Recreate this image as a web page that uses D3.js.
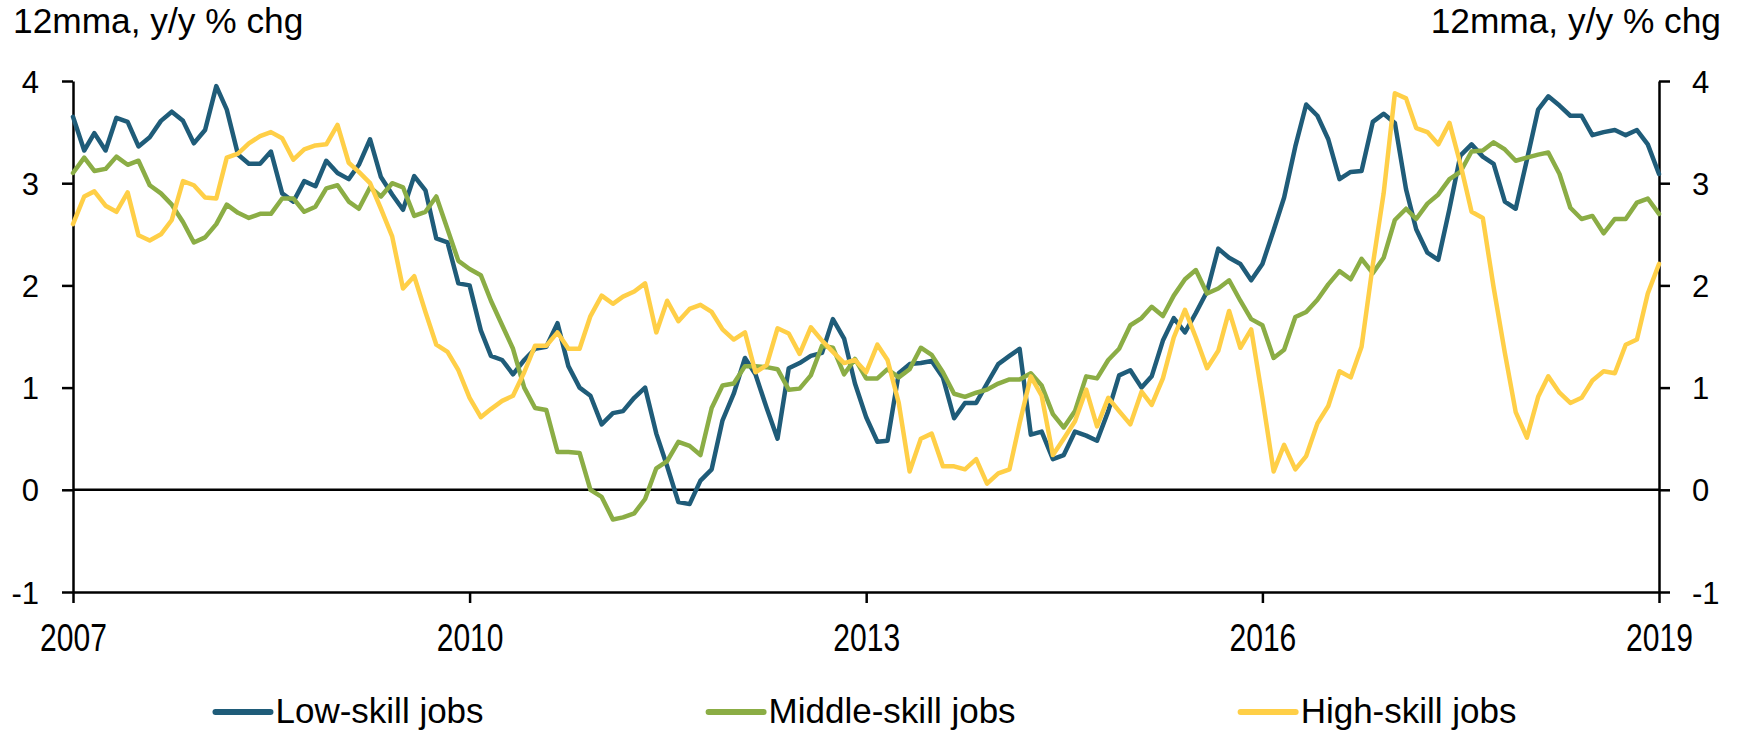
<!DOCTYPE html>
<html>
<head>
<meta charset="utf-8">
<script src="https://cdn.jsdelivr.net/npm/d3@7"></script>
<style>
  html, body { margin: 0; padding: 0; background: #fff; }
  svg { display: block; }
</style>
</head>
<body>
<svg></svg>
<script>
// monthly 12mma y/y % chg, jan 2007 .. jan 2019
let startYear = 2007
let yearTicks = [2007, 2010, 2013, 2016, 2019]
let yTicks = [-1, 0, 1, 2, 3, 4]
let seriesNames = ['Low-skill jobs', 'Middle-skill jobs', 'High-skill jobs']
let seriesColors = ['#1f5c79', '#8bad45', '#ffcf47']

let lowSkill = [
  3.65, 3.32, 3.49, 3.32, 3.64, 3.60, 3.36, 3.45, 3.61, 3.70, 3.61, 3.39,
  3.52, 3.95, 3.72, 3.28, 3.19, 3.19, 3.31, 2.90, 2.82, 3.02, 2.97, 3.22,
  3.10, 3.04, 3.18, 3.43, 3.06, 2.89, 2.74, 3.07, 2.93, 2.46, 2.42, 2.02,
  2.00, 1.56, 1.31, 1.27, 1.13, 1.27, 1.38, 1.40, 1.63, 1.21, 1.00, 0.92,
  0.64, 0.75, 0.77, 0.90, 1.00, 0.55, 0.23, -0.12, -0.14, 0.09, 0.20, 0.68,
  0.94, 1.29, 1.13, 0.80, 0.50, 1.19, 1.24, 1.31, 1.34, 1.67, 1.48, 1.04,
  0.71, 0.47, 0.48, 1.14, 1.23, 1.24, 1.26, 1.10, 0.70, 0.85, 0.85, 1.04,
  1.23, 1.31, 1.38, 0.54, 0.57, 0.30, 0.34, 0.57, 0.53, 0.48, 0.77, 1.12,
  1.17, 1.00, 1.11, 1.46, 1.68, 1.54, 1.73, 1.94, 2.36, 2.27, 2.21, 2.05,
  2.21, 2.54, 2.86, 3.36, 3.77, 3.66, 3.43, 3.04, 3.11, 3.12, 3.60, 3.68,
  3.59, 2.94, 2.55, 2.32, 2.25, 2.75, 3.27, 3.38, 3.26, 3.19, 2.82, 2.75,
  3.23, 3.72, 3.85, 3.76, 3.66, 3.66, 3.47, 3.50, 3.52, 3.47, 3.52, 3.38,
  3.09
]

let middleSkill = [
  3.10, 3.25, 3.12, 3.14, 3.26, 3.18, 3.22, 2.98, 2.90, 2.79, 2.62, 2.42,
  2.47, 2.60, 2.79, 2.71, 2.66, 2.70, 2.70, 2.85, 2.85, 2.72, 2.77, 2.95,
  2.98, 2.82, 2.75, 2.96, 2.87, 3.00, 2.96, 2.68, 2.72, 2.87, 2.55, 2.24,
  2.16, 2.10, 1.85, 1.61, 1.38, 1.00, 0.80, 0.78, 0.37, 0.37, 0.36, 0.00,
  -0.07, -0.29, -0.27, -0.23, -0.09, 0.21, 0.28, 0.47, 0.43, 0.34, 0.80, 1.02,
  1.04, 1.21, 1.21, 1.20, 1.18, 0.98, 0.99, 1.12, 1.41, 1.39, 1.13, 1.28,
  1.09, 1.09, 1.18, 1.10, 1.18, 1.39, 1.32, 1.15, 0.94, 0.91, 0.95, 0.98,
  1.04, 1.08, 1.08, 1.14, 1.02, 0.74, 0.61, 0.77, 1.11, 1.09, 1.27, 1.38,
  1.61, 1.68, 1.79, 1.70, 1.90, 2.06, 2.15, 1.92, 1.97, 2.05, 1.85, 1.67,
  1.61, 1.29, 1.37, 1.69, 1.74, 1.86, 2.01, 2.14, 2.06, 2.26, 2.12, 2.27,
  2.64, 2.75, 2.65, 2.80, 2.89, 3.04, 3.11, 3.31, 3.32, 3.40, 3.33, 3.22,
  3.25, 3.28, 3.30, 3.09, 2.76, 2.65, 2.68, 2.51, 2.65, 2.65, 2.81, 2.85,
  2.70
]

let highSkill = [
  2.60, 2.87, 2.92, 2.78, 2.72, 2.91, 2.49, 2.44, 2.50, 2.64, 3.02, 2.98,
  2.86, 2.85, 3.25, 3.29, 3.39, 3.46, 3.50, 3.44, 3.23, 3.33, 3.37, 3.38,
  3.57, 3.20, 3.11, 3.00, 2.75, 2.48, 1.97, 2.09, 1.74, 1.42, 1.35, 1.17,
  0.90, 0.71, 0.79, 0.87, 0.92, 1.15, 1.41, 1.41, 1.54, 1.38, 1.38, 1.70,
  1.90, 1.82, 1.89, 1.94, 2.02, 1.54, 1.85, 1.65, 1.77, 1.81, 1.74, 1.57,
  1.47, 1.54, 1.15, 1.22, 1.58, 1.53, 1.33, 1.59, 1.46, 1.35, 1.24, 1.27,
  1.15, 1.42, 1.27, 0.85, 0.18, 0.50, 0.55, 0.23, 0.23, 0.20, 0.30, 0.06,
  0.16, 0.20, 0.65, 1.11, 0.92, 0.34, 0.50, 0.67, 0.98, 0.62, 0.90, 0.77,
  0.64, 0.96, 0.83, 1.09, 1.49, 1.76, 1.49, 1.19, 1.36, 1.75, 1.39, 1.57,
  0.90, 0.18, 0.44, 0.20, 0.33, 0.65, 0.82, 1.16, 1.10, 1.40, 2.20, 2.90,
  3.88, 3.83, 3.54, 3.50, 3.38, 3.59, 3.19, 2.72, 2.66, 1.98, 1.34, 0.76,
  0.51, 0.91, 1.11, 0.95, 0.85, 0.90, 1.07, 1.16, 1.14, 1.42, 1.47, 1.92,
  2.21
]

let width = 1740
let height = 730
let plotLeft = 73
let plotRight = 1659
let plotTop = 81
let plotBottom = 592
let tickLen = 11

let svg = d3.select('svg')
    .attr('width', width)
    .attr('height', height)

let xScale = d3.scaleTime()
                .domain([new Date(startYear, 0, 1), new Date(yearTicks[yearTicks.length - 1], 0, 1)])
                .range([plotLeft, plotRight])

let yScale = d3.scaleLinear()
                .domain([-1, 4])
                .range([plotBottom, plotTop])

let month = i => new Date(startYear, i, 1)

let series = [lowSkill, middleSkill, highSkill]

// axes (plain hyphen for -1, like the original)
let xAxis = d3.axisBottom(xScale)
              .tickValues(yearTicks.map(y => new Date(y, 0, 1)))
              .tickFormat(d3.timeFormat('%Y'))
              .tickSize(tickLen)
              .tickSizeOuter(0)

let yAxisLeft = d3.axisLeft(yScale)
                  .tickValues(yTicks)
                  .tickFormat(d => String(d))
                  .tickSize(tickLen)
                  .tickSizeOuter(0)

let yAxisRight = d3.axisRight(yScale)
                   .tickValues(yTicks)
                   .tickFormat(d => String(d))
                   .tickSize(tickLen)
                   .tickSizeOuter(0)

let gx = svg.append('g')
    .attr('transform', `translate(0, ${plotBottom})`)
    .call(xAxis)

// year labels are condensed in the original
gx.selectAll('text')
    .attr('y', 59)
    .attr('dy', 0)
    .attr('transform', 'scale(0.77, 1)')
    .style('font-family', '"Liberation Sans", Arial, sans-serif')
    .style('font-size', '39px')
    .style('fill', '#000')

let gl = svg.append('g')
    .attr('transform', `translate(${plotLeft}, 0)`)
    .call(yAxisLeft)

gl.selectAll('text')
    .attr('x', -34)
    .attr('dy', '0.36em')
    .style('font-family', '"Liberation Sans", Arial, sans-serif')
    .style('font-size', '31px')
    .style('fill', '#000')

let gr = svg.append('g')
    .attr('transform', `translate(${plotRight}, 0)`)
    .call(yAxisRight)

gr.selectAll('text')
    .attr('x', 33)
    .attr('dy', '0.36em')
    .style('font-family', '"Liberation Sans", Arial, sans-serif')
    .style('font-size', '31px')
    .style('fill', '#000')

svg.selectAll('.domain, .tick line')
    .attr('stroke', '#000')
    .attr('stroke-width', 2.5)

// zero line
svg.append('line')
    .attr('x1', plotLeft)
    .attr('x2', plotRight)
    .attr('y1', yScale(0))
    .attr('y2', yScale(0))
    .attr('stroke', '#000')
    .attr('stroke-width', 2.5)

// the three series
let line = d3.line()
             .x((d, i) => xScale(month(i)))
             .y(d => yScale(d))

svg.append('g')
  .selectAll('path')
  .data(series)
  .enter()
  .append('path')
    .attr('d', d => line(d))
    .attr('fill', 'none')
    .attr('stroke', (d, i) => seriesColors[i])
    .attr('stroke-width', 4.5)
    .attr('stroke-linejoin', 'round')
    .attr('stroke-linecap', 'round')

// unit labels, top left and top right
svg.append('text')
    .attr('x', 13)
    .attr('y', 33)
    .style('font-family', '"Liberation Sans", Arial, sans-serif')
    .style('font-size', '35.3px')
    .text('12mma, y/y % chg')

svg.append('text')
    .attr('x', 1721)
    .attr('y', 33)
    .style('text-anchor', 'end')
    .style('font-family', '"Liberation Sans", Arial, sans-serif')
    .style('font-size', '35.3px')
    .text('12mma, y/y % chg')

// legend
let legend = svg.append('g')
let swatch = 55
let gap = 225
let items = legend.selectAll('g')
  .data(seriesNames)
  .enter()
  .append('g')

items.append('line')
    .attr('x1', 0)
    .attr('x2', swatch)
    .attr('y1', 712)
    .attr('y2', 712)
    .attr('stroke', (d, i) => seriesColors[i])
    .attr('stroke-width', 6)
    .attr('stroke-linecap', 'round')

items.append('text')
    .attr('x', swatch + 5)
    .attr('y', 723)
    .style('font-family', '"Liberation Sans", Arial, sans-serif')
    .style('font-size', '35px')
    .text(d => d)

let offsets = []
let total = 0
items.each(function () {
  offsets.push(total)
  total += this.getBBox().width + gap
})
total -= gap
let startX = (plotLeft + plotRight) / 2 - total / 2
items.attr('transform', (d, i) => `translate(${startX + offsets[i]}, 0)`)
</script>
</body>
</html>
